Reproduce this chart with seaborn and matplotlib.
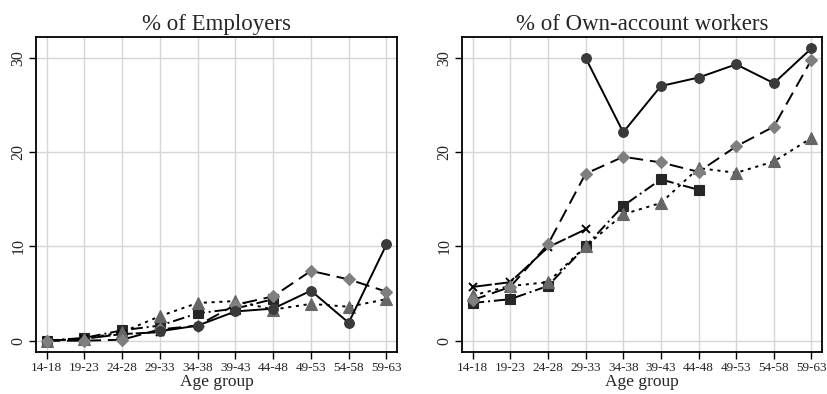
import numpy as np
import pandas as pd
import matplotlib
matplotlib.use("Agg")
import matplotlib.pyplot as plt
import seaborn as sns

# Age groups shared by both panels
age_groups = ["14-18", "19-23", "24-28", "29-33", "34-38",
              "39-43", "44-48", "49-53", "54-58", "59-63"]

# % of employers by cohort (None = cohort not observed at that age)
emp_circle = [None, None, None, 1.0, 1.6, 3.1, 3.4, 5.3, 1.9, 10.2]
emp_diamond = [0.0, 0.0, 0.1, 1.2, 1.6, 3.8, 4.7, 7.4, 6.5, 5.2]
emp_triangle = [0.0, 0.2, 0.9, 2.6, 4.0, 4.2, 3.3, 3.9, 3.6, 4.4]
emp_square = [0.0, 0.3, 1.1, 1.6, 2.9, 3.4, 4.4, None, None, None]
emp_cross = [0.0, 0.2, 0.7, 0.9, None, None, None, None, None, None]

# % of own-account workers by cohort
own_circle = [None, None, None, 30.0, 22.1, 27.0, 27.9, 29.3, 27.3, 31.0]
own_diamond = [4.3, 5.7, 10.2, 17.7, 19.5, 18.9, 17.9, 20.6, 22.7, 29.8]
own_triangle = [4.8, 5.8, 6.2, 10.0, 13.4, 14.6, 18.3, 17.8, 19.0, 21.5]
own_square = [4.0, 4.4, 5.8, 10.0, 14.3, 17.1, 16.0, None, None, None]
own_cross = [5.7, 6.2, 9.9, 11.8, None, None, None, None, None, None]

styles = {
    "circle": dict(marker="o", ms=7.0, mfc="#3a3a3a", mec="#3a3a3a", ls="-"),
    "diamond": dict(marker="D", ms=6.5, mfc="#7f7f7f", mec="#7f7f7f", ls=(0, (7, 3.5))),
    "triangle": dict(marker="^", ms=8.0, mfc="#666666", mec="#666666", ls=(0, (1.6, 2.4))),
    "square": dict(marker="s", ms=6.8, mfc="#262626", mec="#262626", ls=(0, (6, 2, 1, 2))),
    "cross": dict(marker="x", ms=5.5, mfc="black", mec="black", mew=1.4, ls=(0, (10, 1.5))),
}

panels = [
    ("% of Employers", dict(circle=emp_circle, diamond=emp_diamond, triangle=emp_triangle,
                            square=emp_square, cross=emp_cross)),
    ("% of Own-account workers", dict(circle=own_circle, diamond=own_diamond, triangle=own_triangle,
                                      square=own_square, cross=own_cross)),
]

sns.set_theme(style="white")
plt.rcParams["font.family"] = ["Liberation Serif", "DejaVu Serif"]

fig = plt.figure(figsize=(8.28, 3.94), dpi=100)
axes = [fig.add_axes([0.0435, 0.1066, 0.436, 0.7995]),
        fig.add_axes([0.558, 0.1066, 0.4348, 0.7995])]

positions = np.arange(len(age_groups))

for ax, (title, series) in zip(axes, panels):
    for name in ["square", "cross", "triangle", "diamond", "circle"]:
        vals = series[name]
        df = pd.DataFrame({"x": positions, "y": vals}).dropna()
        st = dict(styles[name])
        ls = st.pop("ls")
        sns.lineplot(data=df, x="x", y="y", ax=ax, color="black", lw=1.4,
                     linestyle=ls, markeredgewidth=st.pop("mew", 0.8),
                     legend=False, zorder=3, **st)
    ax.set_xlim(-0.28, 9.28)
    ax.set_ylim(-1.2, 32.2)
    ax.set_xticks(positions)
    ax.set_xticklabels(age_groups, fontsize=9.5)
    ax.set_yticks([0, 10, 20, 30])
    ax.set_yticklabels(["0", "10", "20", "30"], fontsize=11.5, rotation=90, va="center")
    ax.grid(True, color="#d6d6d6", lw=1.0, zorder=0)
    ax.set_axisbelow(True)
    ax.tick_params(axis="both", direction="out", length=5, width=1.0, color="black",
                   bottom=True, left=True, pad=2)
    for sp in ax.spines.values():
        sp.set_color("black")
        sp.set_linewidth(1.3)
    ax.set_xlabel("Age group", fontsize=12.5, labelpad=0)
    ax.set_ylabel("")
    ax.set_title(title, fontsize=16.5, pad=5)

fig.savefig("out.png", dpi=100, facecolor="white")
